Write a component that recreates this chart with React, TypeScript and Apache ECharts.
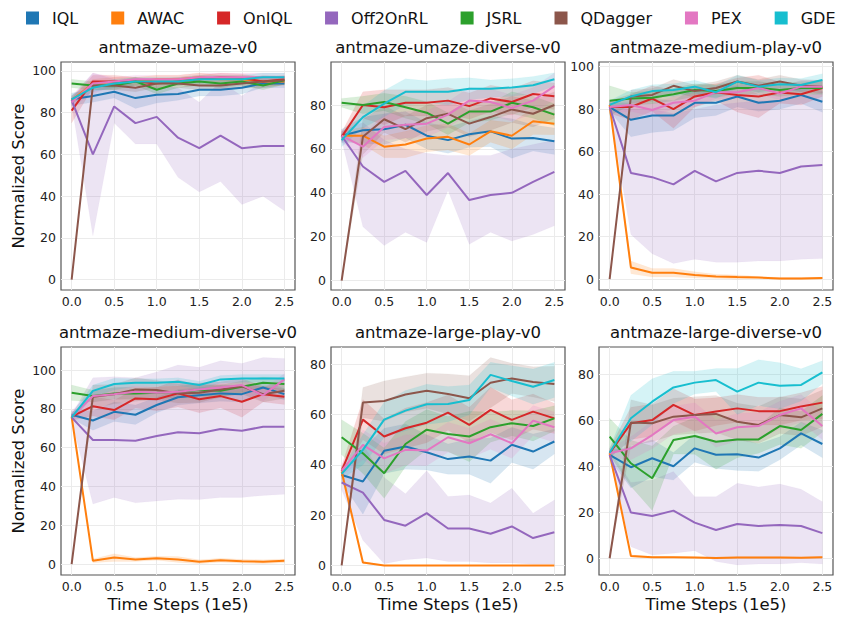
import React, { useEffect, useRef } from "react";
import * as echarts from "echarts";

const xSteps = [0, 0.25, 0.5, 0.75, 1.0, 1.25, 1.5, 1.75, 2.0, 2.25, 2.5];
const xTicks = [0, 0.5, 1.0, 1.5, 2.0, 2.5];
const methods = ["IQL", "AWAC", "OnIQL", "Off2OnRL", "JSRL", "QDagger", "PEX", "GDE"];
const colors = ["#1f77b4", "#ff7f0e", "#d62728", "#9467bd", "#2ca02c", "#8c564b", "#e377c2", "#17becf"];
const panelTitles = [
  "antmaze-umaze-v0",
  "antmaze-umaze-diverse-v0",
  "antmaze-medium-play-v0",
  "antmaze-medium-diverse-v0",
  "antmaze-large-play-v0",
  "antmaze-large-diverse-v0",
];
const yTicks100 = [0, 20, 40, 60, 80, 100];
const yTicks80 = [0, 20, 40, 60, 80];

// ---- antmaze-umaze-v0 ----
const umazeMean = [
  [86.4, 88, 90, 87, 88.6, 89, 91, 91, 92, 94, 94],
  [86, 94, 95, 95, 96, 96, 97, 96, 96, 95, 95],
  [81, 95, 95, 95, 94, 95, 96, 97, 96.6, 95, 96],
  [86, 60, 83, 75, 78, 68, 63, 69, 63, 64, 64],
  [94, 93, 93, 95, 91, 94, 95, 94, 95, 93, 95.5],
  [0, 93, 93, 92, 94, 94, 93, 93, 94, 95, 95.5],
  [85, 94, 95, 96, 96, 96, 97, 97, 97, 97, 97],
  [86.4, 92, 94, 95, 95, 95, 96, 96, 96, 97, 97],
];
const umazeSpread = [
  [3, 3, 3, 5, 4, 3, 3, 3, 3, 2, 2],
  [2, 2, 2, 2, 2, 2, 2, 2, 2, 2, 2],
  [6, 3, 3, 2, 2, 2, 2, 2, 2, 2, 2],
  null,
  [2, 2, 2, 2, 2, 2, 2, 2, 2, 2, 2],
  [0, 2, 2, 2, 2, 2, 2, 2, 2, 3, 2],
  [2, 5, 2, 2, 2, 2, 2, 2, 2, 2, 2],
  [2, 2, 2, 2, 2, 2, 2, 2, 2, 2, 2],
];
const umazeOffLo = [84, 21, 75, 65, 65, 49, 42, 47, 36, 40, 33];
const umazeOffHi = [88, 99, 96, 93, 92, 92, 85, 95, 88, 95, 96];

// ---- antmaze-umaze-diverse-v0 ----
const umazeDivMean = [
  [66, 68.5, 69, 71, 66, 64, 66.7, 68, 64.7, 65, 63.5],
  [66, 66, 61, 62, 64.7, 65.5, 62, 68, 66, 72.6, 71.5],
  [65.5, 80, 79, 81, 81, 82, 79.5, 83, 81.4, 85, 84],
  [66, 52, 45, 50, 39, 49, 36.7, 39, 40, 45, 49.5],
  [81, 80, 81.4, 79, 76.5, 71.5, 77, 77, 81, 79, 75.6],
  [0, 65.5, 73.5, 69, 74, 76, 71.5, 74.5, 78, 76, 80],
  [66, 61, 70, 71, 71.5, 75.6, 82, 81.4, 78.6, 82, 88.6],
  [64, 74.5, 80.6, 86, 86, 86, 87.4, 87.4, 88, 89, 91.7],
];
const umazeDivSpread = [
  [3, 6, 7, 6, 6, 6, 6, 7, 9, 6, 6],
  [2, 4, 5, 6, 6, 6, 5, 5, 6, 6, 5],
  [2, 6, 8, 6, 6, 6, 6, 6, 6, 6, 6],
  null,
  [2, 4, 4, 5, 5, 5, 5, 4, 5, 5, 5],
  [0, 8, 6, 6, 6, 6, 6, 6, 6, 6, 6],
  [3, 5, 6, 6, 6, 6, 6, 6, 6, 6, 6],
  [3, 5, 6, 6, 5, 6, 5, 4, 4, 4, 3],
];
const umazeDivOffLo = [64, 24.5, 16, 22, 17.4, 41, 16.5, 22, 18, 21, 25];
const umazeDivOffHi = [68, 72, 64, 60, 58, 57, 57, 57, 60, 62, 64];

// ---- antmaze-medium-play-v0 ----
const mediumPlayMean = [
  [81, 75, 77, 77, 83, 83, 86, 83, 84, 86.7, 83.5],
  [82, 5.5, 3, 3, 2, 1.3, 1, 0.8, 0.3, 0.3, 0.5],
  [81, 81, 85, 80, 86, 88, 86.7, 86, 87.8, 87, 90],
  [81, 50, 48, 44.6, 51, 46, 50, 51, 50, 53, 53.7],
  [84, 85, 85.4, 87, 89, 88.5, 90, 90, 89, 90, 90],
  [0, 86, 86.7, 91, 88.5, 90, 93, 91, 93, 91, 90.6],
  [81, 82, 79.6, 83, 84, 88, 88, 90, 87.4, 90.6, 90.6],
  [82, 86, 88.5, 89, 90.6, 88, 93, 90.6, 91.7, 91.4, 93.7],
];
const mediumPlaySpread = [
  [2, 8, 8, 7, 7, 6, 5, 4, 4, 4, 5],
  [2, 3, 2, 2, 1.5, 1, 1, 0.5, 0.5, 0.5, 0.5],
  [3, 6, 6, 9, 5, 4, 8, 10, 5, 5, 4],
  null,
  [7, 3, 3, 3, 3, 3, 3, 3, 3, 3, 3],
  [0, 3, 3, 3, 3, 3, 3, 3, 3, 3, 3],
  [3, 3, 3, 3, 3, 3, 3, 3, 3, 3, 3],
  [2, 3, 3, 3, 3, 3, 3, 3, 3, 3, 3],
];
const mediumPlayOffLo = [80, 21, 12, 7.4, 9.4, 8, 8, 8.6, 8.6, 9.4, 9.7];
const mediumPlayOffHi = [82, 80, 80, 78, 80, 82, 83, 84, 84, 86, 88];

// ---- antmaze-medium-diverse-v0 ----
const mediumDivMean = [
  [77, 74, 78.5, 77, 82, 86, 87, 88, 87.6, 91, 87.6],
  [76, 1.7, 3.4, 2.4, 3, 2.4, 1.2, 2, 1.5, 1.2, 1.7],
  [76, 81.4, 79.4, 85.4, 85, 88, 85, 86.6, 83.7, 87.6, 86.3],
  [75.6, 64, 64, 63.6, 66, 68, 67.4, 69.6, 68.7, 70.8, 70.8],
  [88.3, 86.6, 88, 88, 88.3, 88.8, 89.7, 89.3, 91.4, 93.5, 92.8],
  [0, 86.3, 87.6, 90, 89.7, 88, 88.3, 90, 91.7, 87.6, 89.3],
  [76, 86.6, 87.6, 88.8, 88.3, 88.8, 90, 91, 92.3, 87, 95.2],
  [75.6, 89.3, 92.8, 93.5, 93.5, 94, 92.3, 95.2, 95.7, 95.7, 95.7],
];
const mediumDivSpread = [
  [2, 5, 5, 5, 4, 4, 4, 4, 4, 3, 3],
  [1, 1, 2, 1, 1, 1.5, 1, 1, 1, 1, 1],
  [2, 5, 5, 5, 6, 7, 7, 6, 8, 4, 4],
  null,
  [4, 3, 3, 3, 3, 3, 3, 3, 3, 3, 3],
  [0, 6, 5, 6, 5, 5, 5, 4, 4, 4, 4],
  [3, 3, 3, 3, 3, 3, 3, 3, 3, 3, 3],
  [2, 3, 3, 2, 2, 2, 2, 2, 2, 2, 2],
];
const mediumDivOffLo = [74, 31, 34.4, 31.6, 32.6, 33.5, 33.3, 34.4, 34.4, 35.4, 36];
const mediumDivOffHi = [77, 96, 96.6, 96, 99, 102.6, 101.4, 104.8, 103.4, 106.5, 106];

// ---- antmaze-large-play-v0 ----
const largePlayMean = [
  [36, 33.4, 45.6, 47.3, 45, 42.3, 43.3, 41.7, 48, 45.3, 49.3],
  [37.4, 1.2, 0, 0, 0, 0, 0, 0, 0, 0, 0],
  [37.6, 58, 51.3, 54.6, 56.8, 60.8, 55.9, 61.9, 57.9, 61.2, 58.5],
  [33, 29, 18.1, 15.8, 20.8, 14.7, 14.7, 12.6, 15.5, 10.9, 13.2],
  [51, 44.6, 36.7, 48.3, 54, 52.3, 51.3, 55, 56.6, 55.5, 58.5],
  [0, 64.8, 65.4, 68, 69.5, 68.2, 66.5, 72.7, 74.4, 73, 72.2],
  [37.7, 48, 42.6, 46, 45.7, 51, 48.6, 52.2, 48.6, 57.6, 55],
  [36.4, 46, 58, 61.6, 64.1, 64.2, 65.8, 75.8, 73.4, 71.1, 73.8],
];
const largePlaySpread = [
  [3, 13, 9, 9, 7, 6, 7, 9, 7, 7, 5],
  [2, 0.5, 0, 0, 0, 0, 0, 0, 0, 0, 0],
  [2, 8, 7, 8, 8, 7, 7, 9, 8, 7, 6],
  null,
  [7, 8, 10, 9, 8, 7, 10, 6, 5, 6, 5],
  [0, 6, 8, 7, 7, 8, 9, 10, 6, 6, 7],
  [2, 6, 6, 6, 6, 6, 6, 6, 6, 6, 6],
  [2, 6, 7, 8, 8, 7, 6, 5, 6, 7, 7],
];
const largePlayOffLo = [30, 10, 0.7, 2.3, 3, 1.6, 1.6, 1, 1, 0.5, 0.5];
const largePlayOffHi = [36, 48, 35, 28.5, 37.7, 27.4, 28, 24.8, 30.7, 20.8, 26];

// ---- antmaze-large-diverse-v0 ----
const largeDivMean = [
  [45, 39.6, 43.5, 40, 47.8, 45, 45.2, 43.8, 47.8, 54.3, 49.7],
  [45.7, 1, 0.4, 0.4, 0.3, 0.1, 0.3, 0.3, 0.3, 0.2, 0.4],
  [45.7, 58.7, 60.1, 66.7, 62.3, 63.8, 65.2, 64, 64, 66, 67.7],
  [45, 19.9, 18.4, 20.7, 15.5, 12.3, 14.9, 14, 14.5, 14, 10.9],
  [52.9, 41.3, 34.8, 51.4, 53.2, 50.7, 51.7, 51.7, 57.5, 55.8, 62.8],
  [0, 59, 58.7, 61.6, 62.3, 62.8, 59.4, 58, 62.3, 61.3, 65.2],
  [45.7, 47.8, 53.6, 60.1, 61.6, 54.3, 57, 57.5, 62.3, 65.2, 57.5],
  [45.9, 60.9, 68.1, 74.3, 76.4, 77.5, 72.5, 76.4, 75, 75.4, 80.9],
];
const largeDivSpread = [
  [2, 9, 8, 6, 6, 6, 7, 6, 5, 5, 6],
  [1, 0.5, 0.3, 0.3, 0.3, 0.3, 0.3, 0.3, 0.3, 0.3, 0.3],
  [2, 7, 7, 7, 7, 6, 6, 6, 6, 6, 7],
  null,
  [8, 10, 14, 6, 8, 12, 8, 6, 8, 8, 8],
  [0, 10, 8, 8, 8, 8, 8, 8, 8, 8, 8],
  [2, 5, 6, 6, 6, 6, 6, 6, 6, 6, 6],
  [2, 10, 10, 7, 5, 5, 10, 10, 10, 7, 5],
];
const largeDivOffLo = [43, 5, 1.4, 2.2, 3.3, -1.4, -2.9, -2.5, -2.5, -2, -2.5];
const largeDivOffHi = [47, 33, 34, 37.7, 26.8, 26.8, 32.6, 31, 32.3, 30, 24.6];

const panels = [
  { mean: umazeMean, spread: umazeSpread, lo: umazeOffLo, hi: umazeOffHi, ticks: yTicks100, min: -5, max: 104.3 },
  { mean: umazeDivMean, spread: umazeDivSpread, lo: umazeDivOffLo, hi: umazeDivOffHi, ticks: yTicks80, min: -4.3, max: 99.6 },
  { mean: mediumPlayMean, spread: mediumPlaySpread, lo: mediumPlayOffLo, hi: mediumPlayOffHi, ticks: yTicks100, min: -5.1, max: 102.2 },
  { mean: mediumDivMean, spread: mediumDivSpread, lo: mediumDivOffLo, hi: mediumDivOffHi, ticks: yTicks100, min: -5.6, max: 111.9 },
  { mean: largePlayMean, spread: largePlaySpread, lo: largePlayOffLo, hi: largePlayOffHi, ticks: yTicks80, min: -3.8, max: 86.9 },
  { mean: largeDivMean, spread: largeDivSpread, lo: largeDivOffLo, hi: largeDivOffHi, ticks: yTicks80, min: -7.3, max: 91.9 },
];

const FONT = "DejaVu Sans";
const gridLefts = [61, 331, 599];
const gridTops = [62, 347];
const GW = 234;
const GH = 228;

function buildOption() {
  const grid: any[] = [];
  const xAxis: any[] = [];
  const yAxis: any[] = [];
  const title: any[] = [];
  const series: any[] = [];

  panels.forEach((p, pi) => {
    const col = pi % 3;
    const row = Math.floor(pi / 3);
    const left = gridLefts[col];
    const top = gridTops[row];
    grid.push({
      left, top, width: GW, height: GH,
      show: true, borderColor: "#555", borderWidth: 1.2, backgroundColor: "#fff",
    });
    title.push({
      text: panelTitles[pi],
      left: left + GW / 2,
      top: top - 23,
      textAlign: "center",
      padding: 0,
      textStyle: { fontFamily: FONT, fontSize: 16.5, fontWeight: "normal", color: "#111" },
    });
    xAxis.push({
      type: "value", gridIndex: pi, min: -0.125, max: 2.625,
      axisLine: { show: false },
      axisTick: { show: false, customValues: xTicks },
      axisLabel: {
        customValues: xTicks, margin: 5, fontFamily: FONT, fontSize: 12.5, color: "#222",
        formatter: (v: number) => v.toFixed(1),
      },
      splitLine: { show: true, lineStyle: { color: "#ebebeb", width: 1 } },
      name: row === 1 ? "Time Steps (1e5)" : "",
      nameLocation: "middle", nameGap: 21,
      nameTextStyle: { fontFamily: FONT, fontSize: 16.5, color: "#111" },
    });
    yAxis.push({
      type: "value", gridIndex: pi, min: p.min, max: p.max,
      axisLine: { show: false },
      axisTick: { show: false, customValues: p.ticks },
      axisLabel: { customValues: p.ticks, margin: 5, fontFamily: FONT, fontSize: 12.5, color: "#222" },
      splitLine: { show: true, lineStyle: { color: "#ebebeb", width: 1 } },
      name: col === 0 ? "Normalized Score" : "",
      nameLocation: "middle", nameGap: 34,
      nameTextStyle: { fontFamily: FONT, fontSize: 16.5, color: "#111" },
    });

    // shaded bands (one polygon per method, through the axes' coordinate system)
    methods.forEach((m, k) => {
      const mean = p.mean[k];
      const sp = p.spread[k];
      const lo = k === 3 ? p.lo : mean.map((v, i) => v - (sp as number[])[i]);
      const hi = k === 3 ? p.hi : mean.map((v, i) => v + (sp as number[])[i]);
      const data = xSteps.map((x, i) => [x, lo[i], hi[i]]);
      const color = colors[k];
      series.push({
        type: "custom", xAxisIndex: pi, yAxisIndex: pi, name: `${m}-band`,
        data, silent: true, z: 1,
        encode: { x: 0, y: [1, 2] },
        renderItem: (params: any, api: any) => {
          if (params.dataIndex !== 0) return null;
          const upper = data.map((d) => api.coord([d[0], d[2]]));
          const lower = data.map((d) => api.coord([d[0], d[1]])).reverse();
          return {
            type: "polygon",
            shape: { points: upper.concat(lower) },
            style: { fill: color, opacity: 0.18, stroke: color, lineWidth: 0.8, strokeOpacity: 0.25 },
          };
        },
      });
    });
    methods.forEach((m, k) => {
      series.push({
        type: "line", xAxisIndex: pi, yAxisIndex: pi, name: m,
        data: xSteps.map((x, i) => [x, p.mean[k][i]]),
        symbol: "none", color: colors[k],
        lineStyle: { width: 2, color: colors[k] }, itemStyle: { color: colors[k] }, z: 3,
      });
    });
  });

  return {
    animation: false,
    backgroundColor: "#fff",
    textStyle: { fontFamily: FONT },
    title,
    legend: {
      data: methods.map((m, k) => ({ name: m, itemStyle: { color: colors[k] } })),
      left: 26, top: 10,
      icon: "rect", itemWidth: 13, itemHeight: 13, itemGap: 33,
      padding: 0,
      textStyle: { fontFamily: FONT, fontSize: 16, color: "#111", padding: [0, 0, 0, 8] },
      selectedMode: false,
    },
    grid, xAxis, yAxis, series,
  };
}

export default function App() {
  const ref = useRef<HTMLDivElement>(null);
  useEffect(() => {
    if (!ref.current) return;
    const chart = echarts.init(ref.current, undefined, { renderer: "svg" });
    chart.setOption(buildOption() as any);
    return () => chart.dispose();
  }, []);
  return (
    <div
      ref={ref}
      style={{ position: "fixed", left: 0, top: 0, width: 847, height: 617, background: "#fff" }}
    />
  );
}
